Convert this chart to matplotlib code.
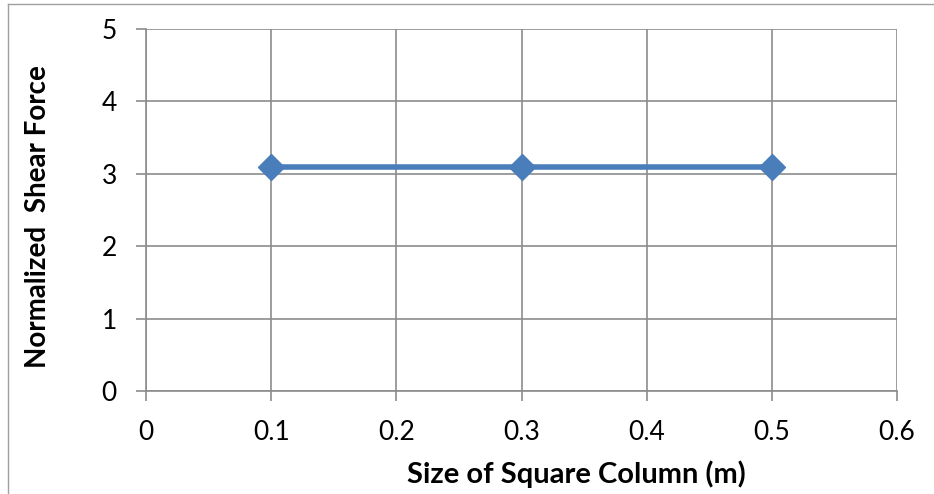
import matplotlib
matplotlib.use("Agg")
import matplotlib.pyplot as plt
from matplotlib.lines import Line2D

column_size = [0.1, 0.3, 0.5]
shear_force = [3.1, 3.1, 3.1]
x_ticks = [0, 0.1, 0.2, 0.3, 0.4, 0.5, 0.6]
x_tick_labels = ["0", "0.1", "0.2", "0.3", "0.4", "0.5", "0.6"]
y_ticks = [0, 1, 2, 3, 4, 5]
y_tick_labels = ["0", "1", "2", "3", "4", "5"]

plt.rcParams["font.family"] = ["Lato", "DejaVu Sans"]

W, H = 934, 494
fig = plt.figure(figsize=(W / 100, H / 100), dpi=100)
ax = fig.add_axes([146 / W, 1 - 391 / H, (897 - 146) / W, (391 - 29) / H])

grid_col = "#8c8c8c"
ax.plot(column_size, shear_force, color="#4a7ebb", linewidth=4,
        marker="D", markersize=13, markerfacecolor="#4a7ebb",
        markeredgecolor="#4a7ebb", zorder=3, clip_on=False)

ax.set_xlim(0, 0.6)
ax.set_ylim(0, 5)
ax.set_xticks(x_ticks)
ax.set_xticklabels(x_tick_labels)
ax.set_yticks(y_ticks)
ax.set_yticklabels(y_tick_labels)
ax.grid(True, color=grid_col, linewidth=1.2)
ax.set_axisbelow(True)
for side in ["top", "right"]:
    ax.spines[side].set_visible(False)
for side in ["left", "bottom"]:
    ax.spines[side].set_color(grid_col)
    ax.spines[side].set_linewidth(1.2)
ax.tick_params(axis="both", direction="out", length=7, width=1.2,
               color=grid_col, labelsize=19, labelcolor="black")
ax.tick_params(axis="x", pad=14)
ax.tick_params(axis="y", pad=14)

# axis titles
fig.text(576 / W, 1 - 474 / H, "Size of Square Column (m)", fontsize=21,
         fontweight="bold", ha="center", va="center")
fig.text(38 / W, 1 - 217 / H, "Normalized  Shear Force", fontsize=20,
         fontweight="bold", ha="center", va="center", rotation=90)

# thin chart frame
fig.add_artist(Line2D([8 / W, 8 / W], [0, 1 - 4 / H],
                      transform=fig.transFigure, color="#a0a0a0", linewidth=1))
fig.add_artist(Line2D([8 / W, 1], [1 - 4 / H, 1 - 4 / H],
                      transform=fig.transFigure, color="#a0a0a0", linewidth=1))

fig.savefig("out.png", dpi=100)
